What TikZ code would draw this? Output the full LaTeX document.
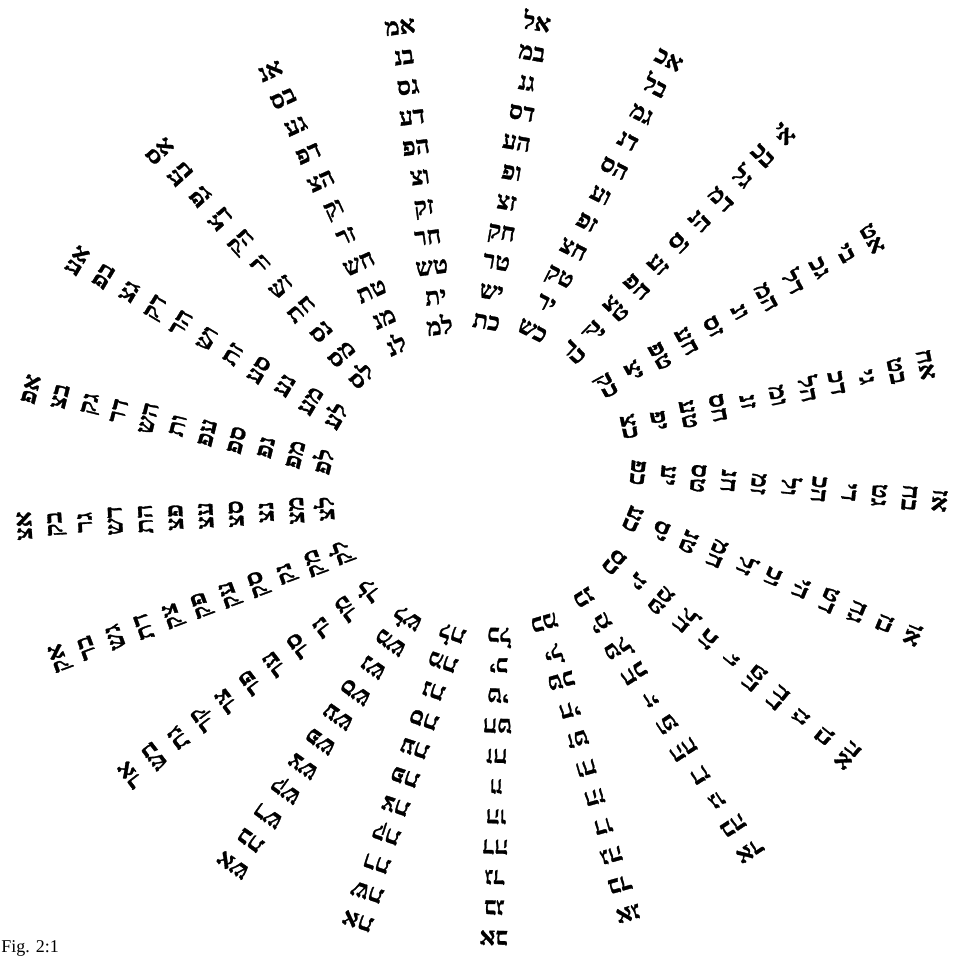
\documentclass[tikz,border=0pt]{standalone}
\usepackage{fontspec}
\setmainfont{Liberation Serif}
\newfontfamily\hebf{Liberation Serif}[Script=Hebrew, BoldFeatures={FakeBold=1.2}]
\TeXXeTstate=1
\begin{document}
\begin{tikzpicture}[x=0.75pt,y=0.75pt,
  pr/.style={font=\hebf\bfseries\fontsize{18.5}{19}\selectfont, inner sep=0pt,
             text height=12pt, text depth=0pt, anchor=center},
  capt/.style={font=\fontsize{13.5}{14}\selectfont, inner sep=0pt, anchor=base west}]
\path[use as bounding box] (-481,-482) rectangle (472,479);
\foreach \d/\pl in {
 1/{אב,בג,גד,דה,הו,וז,זח,חט,טי,יכ,כל},
 2/{אג,בד,גה,דו,הז,וח,זט,חי,טכ,יל,כמ},
 3/{אד,בה,גו,דז,הח,וט,זי,חכ,טל,ימ,כנ},
 4/{אה,בו,גז,דח,הט,וי,זכ,חל,טמ,ינ,כס},
 5/{או,בז,גח,דט,הי,וכ,זל,חמ,טנ,יס,כע},
 6/{אז,בח,גט,די,הכ,ול,זמ,חנ,טס,יע,כפ},
 7/{אח,בט,גי,דכ,הל,ומ,זנ,חס,טע,יפ,כצ},
 8/{אט,בי,גכ,דל,המ,ונ,זס,חע,טפ,יצ,כק},
 9/{אי,בכ,גל,דמ,הנ,וס,זע,חפ,טצ,יק,כר},
 10/{אכ,בל,גמ,דנ,הס,וע,זפ,חצ,טק,יר,כש},
 11/{אל,במ,גנ,דס,הע,ופ,זצ,חק,טר,יש,כת},
 12/{אמ,בנ,גס,דע,הפ,וצ,זק,חר,טש,ית,למ},
 13/{אנ,בס,גע,דפ,הצ,וק,זר,חש,טת,מנ,לנ},
 14/{אס,בע,גפ,דצ,הק,ור,זש,חת,נס,מס,לס},
 15/{אע,בפ,גצ,דק,הר,וש,זת,סע,נע,מע,לע},
 16/{אפ,בצ,גק,דר,הש,ות,עפ,ספ,נפ,מפ,לפ},
 17/{אצ,בק,גר,דש,הת,פצ,עצ,סצ,נצ,מצ,לצ},
 18/{אק,בר,גש,דת,צק,פק,עק,סק,נק,מק,לק},
 19/{אר,בש,גת,קר,צר,פר,ער,סר,נר,מר,לר},
 20/{אש,בת,רש,קש,צש,פש,עש,סש,נש,מש,לש},
 21/{את,שת,רת,קת,צת,פת,עת,סת,נת,מת,לת}}{
  \pgfmathsetmacro\tou{83+(\d-11)*360/21}
  \pgfmathsetmacro\tin{\tou+5}
  \pgfmathsetmacro\xou{460*cos(\tou)}
  \pgfmathsetmacro\you{460*sin(\tou)}
  \pgfmathsetmacro\xin{158*cos(\tin)}
  \pgfmathsetmacro\yin{158*sin(\tin)}
  \pgfmathsetmacro\rot{atan2(\you-\yin,\xou-\xin)-90}
  \foreach \p [count=\k from 0] in \pl {
    \node[pr, rotate=\rot] (p\d-\k) at ({\xou+\k*(\xin-\xou)/10},{\you+\k*(\yin-\you)/10}) {\beginR\p\endR};
  }
}
\node[capt] (cap) at (-480,-473) {Fig. 2:1};
\end{tikzpicture}
\end{document}
